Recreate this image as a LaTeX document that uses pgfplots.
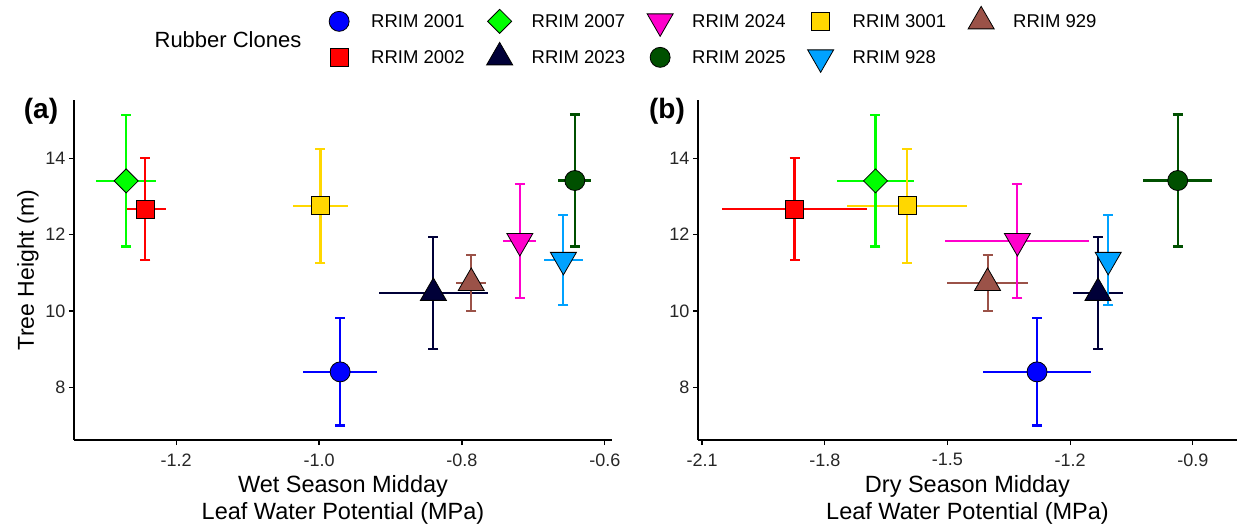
\documentclass[border=0pt]{standalone}
\usepackage{pgfplots}
\usepackage{pgfplotstable}
\pgfplotsset{compat=1.18}
\usepackage{fontspec}
\setmainfont{Liberation Sans}

\definecolor{c2001}{RGB}{0,0,255}
\definecolor{c2002}{RGB}{255,0,0}
\definecolor{c2007}{RGB}{0,255,0}
\definecolor{c2023}{RGB}{0,0,56}
\definecolor{c2024}{RGB}{255,0,204}
\definecolor{c2025}{RGB}{0,80,0}
\definecolor{c3001}{RGB}{255,215,0}
\definecolor{c928}{RGB}{0,162,255}
\definecolor{c929}{RGB}{155,82,72}

% columns: wet x, wet x error, dry x, dry x error, tree height, height error
\pgfplotstableread{
xw exw xd exd y ey
-0.9705 0.052 -1.281 0.132 8.405 1.405
}\tA
\pgfplotstableread{
xw exw xd exd y ey
-1.243 0.029 -1.874 0.178 12.665 1.335
}\tB
\pgfplotstableread{
xw exw xd exd y ey
-1.270 0.042 -1.676 0.095 13.41 1.72
}\tC
\pgfplotstableread{
xw exw xd exd y ey
-0.840 0.076 -1.132 0.060 10.475 1.475
}\tD
\pgfplotstableread{
xw exw xd exd y ey
-0.719 0.023 -1.329 0.176 11.835 1.485
}\tE
\pgfplotstableread{
xw exw xd exd y ey
-0.642 0.023 -0.937 0.084 13.42 1.73
}\tF
\pgfplotstableread{
xw exw xd exd y ey
-0.998 0.039 -1.599 0.146 12.755 1.485
}\tG
\pgfplotstableread{
xw exw xd exd y ey
-0.658 0.027 -1.107 0.020 11.34 1.18
}\tH
\pgfplotstableread{
xw exw xd exd y ey
-0.787 0.021 -1.402 0.100 10.735 0.735
}\tI

\pgfplotsset{
  ebx/.style={only marks, mark=none, forget plot, line width=2.1bp, color=#1,
    error bars/.cd, x dir=both, x explicit, error mark=none,
    error bar style={line width=2.1bp, color=#1}},
  eby/.style={only marks, mark=none, forget plot, line width=2.1bp, color=#1,
    error bars/.cd, y dir=both, y explicit, error mark=-,
    error mark options={rotate=90, line width=2.1bp, mark size=5bp, color=#1},
    error bar style={line width=2.1bp, color=#1}},
  limg/.style={legend image code/.code={%
    \path[draw=none] (0bp,0bp) -- (64bp,0bp);
    \path[draw=none, mark repeat=2, mark phase=2] plot coordinates {(0bp,0bp)(32bp,0bp)(64bp,0bp)};}},
  pcirc/.style={only marks, limg, mark=*, mark size=10bp, mark options={draw=black, fill=#1, line width=0.8bp}},
  psq/.style={only marks, limg, mark=square*, mark size=9bp, mark options={draw=black, fill=#1, line width=0.8bp}},
  pdia/.style={only marks, limg, mark=square*, mark size=8.5bp, mark options={rotate=45, draw=black, fill=#1, line width=0.8bp}},
  ptri/.style={only marks, limg, mark=triangle*, mark size=15bp, mark options={draw=black, fill=#1, line width=0.8bp}},
  pinv/.style={only marks, limg, mark=triangle*, mark size=15bp, mark options={rotate=180, draw=black, fill=#1, line width=0.8bp}},
  common/.style={
    scale only axis, height=340bp,
    axis x line*=bottom, axis y line*=left,
    axis line style={line width=1.3bp, black, -},
    tick style={line width=1.2bp, black},
    tick align=outside, major tick length=5bp,
    ymin=6.62, ymax=15.53, ytick={8,10,12,14},
    /pgf/number format/assume math mode=true,
    ticklabel style={font=\fontsize{18bp}{21bp}\selectfont, color=black!85},
    xticklabel style={yshift=-5bp, /pgf/number format/.cd, fixed, fixed zerofill, precision=1},
    every axis x label/.style={at={(axis description cs:0.5,-0.176)}, anchor=center, align=center,
      font=\fontsize{23.5bp}{26.5bp}\selectfont},
    every axis y label/.style={at={(axis description cs:-0.0855,0.5)}, rotate=90, anchor=center,
      font=\fontsize{23bp}{26bp}\selectfont},
    clip=false,
  },
}

\newcommand\allbars[1]{%
  \addplot[ebx=c2001] table[x=x#1, y=y, x error=ex#1]{\tA};
  \addplot[ebx=c2002] table[x=x#1, y=y, x error=ex#1]{\tB};
  \addplot[ebx=c2007] table[x=x#1, y=y, x error=ex#1]{\tC};
  \addplot[ebx=c2023] table[x=x#1, y=y, x error=ex#1]{\tD};
  \addplot[ebx=c2024] table[x=x#1, y=y, x error=ex#1]{\tE};
  \addplot[ebx=c2025] table[x=x#1, y=y, x error=ex#1]{\tF};
  \addplot[ebx=c3001] table[x=x#1, y=y, x error=ex#1]{\tG};
  \addplot[ebx=c928] table[x=x#1, y=y, x error=ex#1]{\tH};
  \addplot[ebx=c929] table[x=x#1, y=y, x error=ex#1]{\tI};
  \addplot[eby=c2001] table[x=x#1, y=y, y error=ey]{\tA};
  \addplot[eby=c2002] table[x=x#1, y=y, y error=ey]{\tB};
  \addplot[eby=c2007] table[x=x#1, y=y, y error=ey]{\tC};
  \addplot[eby=c2023] table[x=x#1, y=y, y error=ey]{\tD};
  \addplot[eby=c2024] table[x=x#1, y=y, y error=ey]{\tE};
  \addplot[eby=c2025] table[x=x#1, y=y, y error=ey]{\tF};
  \addplot[eby=c3001] table[x=x#1, y=y, y error=ey]{\tG};
  \addplot[eby=c928] table[x=x#1, y=y, y error=ey]{\tH};
  \addplot[eby=c929] table[x=x#1, y=y, y error=ey]{\tI};
  \addplot[pcirc=c2001] table[x=x#1, y=y]{\tA};
  \addplot[pdia=c2007] table[x=x#1, y=y]{\tC};
  \addplot[pinv=c2024] table[x=x#1, y=y]{\tE};
  \addplot[psq=c3001] table[x=x#1, y=y]{\tG};
  \addplot[ptri=c929] table[x=x#1, y=y]{\tI};
  \addplot[psq=c2002] table[x=x#1, y=y]{\tB};
  \addplot[ptri=c2023] table[x=x#1, y=y]{\tD};
  \addplot[pcirc=c2025] table[x=x#1, y=y]{\tF};
  \addplot[pinv=c928] table[x=x#1, y=y]{\tH};
}

\begin{document}
\begin{tikzpicture}
\path[use as bounding box] (0,0) rectangle (1238bp,529bp);

\begin{axis}[common,
  at={(74bp,89bp)}, anchor=south west, width=538bp,
  xmin=-1.343, xmax=-0.590, xtick={-1.2,-1.0,-0.8,-0.6},
  xlabel={Wet Season Midday\\Leaf Water Potential (MPa)},
  ylabel={Tree Height (m)},
  legend columns=5,
  legend style={draw=none, fill=none, at={(axis description cs:0.433,1.276)}, anchor=north west,
    inner sep=0pt, font=\fontsize{18.5bp}{22bp}\selectfont,
    nodes={inner sep=0pt}, row sep=6bp},
  legend cell align=left,
]
\allbars{w}
\addlegendentry{\makebox[96.5bp][l]{RRIM 2001}}
\addlegendentry{\makebox[96.5bp][l]{RRIM 2007}}
\addlegendentry{\makebox[96.5bp][l]{RRIM 2024}}
\addlegendentry{\makebox[96.5bp][l]{RRIM 3001}}
\addlegendentry{\makebox[96.5bp][l]{RRIM 929}}
\addlegendentry{\makebox[96.5bp][l]{RRIM 2002}}
\addlegendentry{\makebox[96.5bp][l]{RRIM 2023}}
\addlegendentry{\makebox[96.5bp][l]{RRIM 2025}}
\addlegendentry{\makebox[96.5bp][l]{RRIM 928}}
\end{axis}

\begin{axis}[common,
  at={(698bp,89bp)}, anchor=south west, width=539bp,
  xmin=-2.11, xmax=-0.792, xtick={-2.1,-1.8,-1.5,-1.2,-0.9},
  xlabel={Dry Season Midday\\Leaf Water Potential (MPa)},
]
\allbars{d}
\end{axis}

\node[font=\bfseries\fontsize{28bp}{32bp}\selectfont, anchor=center] at (41bp,418bp) {(a)};
\node[font=\bfseries\fontsize{28bp}{32bp}\selectfont, anchor=center] at (667bp,418bp) {(b)};
\node[font=\fontsize{22bp}{26bp}\selectfont, anchor=center] at (228bp,489bp) {Rubber Clones};
\end{tikzpicture}
\end{document}
